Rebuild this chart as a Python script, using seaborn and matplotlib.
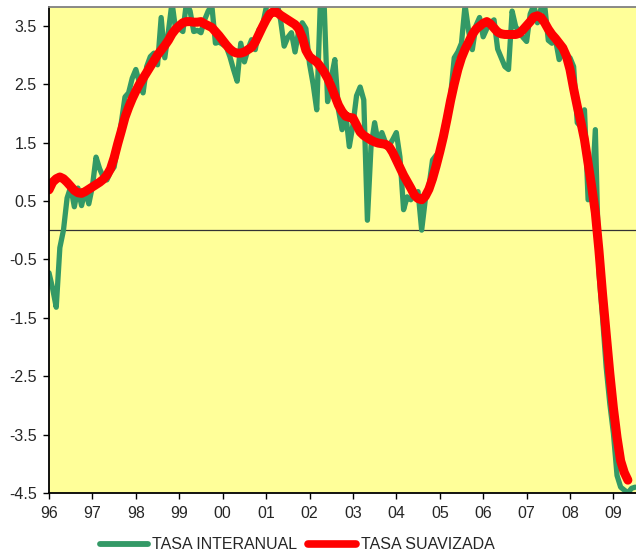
import numpy as np
import pandas as pd
import seaborn as sns
import matplotlib.pyplot as plt

# tasa interanual (mensual, desde enero 1996)
interanual = [
    -0.73, -1.00, -1.32, -0.30, 0.00, 0.55, 0.74, 0.40, 0.72, 0.42, 0.69, 0.45,
    0.75, 1.25, 1.05, 0.91, 0.86, 1.00, 1.08, 1.45, 1.85, 2.28, 2.35, 2.60,
    2.75, 2.52, 2.35, 2.80, 2.97, 3.03, 2.83, 3.64, 2.95, 3.40, 3.90, 3.43,
    3.45, 3.40, 3.90, 3.75, 3.40, 3.42, 3.38, 3.60, 3.75, 3.85, 3.20, 3.22,
    3.18, 3.14, 2.97, 2.75, 2.55, 3.20, 2.88, 3.10, 3.26, 3.09, 3.43, 3.50,
    3.80, 3.95, 3.95, 3.90, 3.60, 3.15, 3.30, 3.38, 3.05, 3.40, 3.55, 3.45,
    2.85, 2.50, 2.06, 3.90, 3.95, 2.20, 2.60, 2.92, 2.06, 1.72, 2.00, 1.43,
    1.80, 2.30, 2.45, 2.23, 0.17, 1.43, 1.84, 1.49, 1.67, 1.50, 1.45, 1.55,
    1.67, 1.25, 0.35, 0.57, 0.52, 0.60, 0.66, 0.00, 0.52, 0.74, 1.20, 1.28,
    1.32, 1.70, 2.00, 2.30, 2.95, 3.05, 3.20, 3.85, 3.40, 3.09, 3.50, 3.64,
    3.31, 3.45, 3.55, 3.60, 3.10, 2.95, 2.80, 2.75, 3.75, 3.48, 3.40, 3.30,
    3.23, 3.70, 3.85, 3.55, 3.80, 3.85, 3.25, 3.20, 3.26, 2.92, 3.03, 3.00,
    2.95, 2.80, 1.84, 1.77, 2.06, 0.52, 0.55, 1.72, -0.73, -1.50, -2.35, -2.97,
    -3.48, -4.20, -4.40, -4.45, -4.50, -4.42, -4.40,
]

# tasa suavizada
suavizada = [
    0.69, 0.82, 0.88, 0.91, 0.88, 0.82, 0.75, 0.68, 0.64, 0.63, 0.66, 0.70,
    0.74, 0.78, 0.82, 0.87, 0.94, 1.05, 1.24, 1.48, 1.70, 1.93, 2.10, 2.25,
    2.38, 2.50, 2.60, 2.70, 2.80, 2.90, 3.00, 3.08, 3.16, 3.25, 3.36, 3.44,
    3.50, 3.55, 3.57, 3.57, 3.56, 3.56, 3.57, 3.53, 3.50, 3.47, 3.40, 3.33,
    3.25, 3.17, 3.10, 3.05, 3.03, 3.03, 3.05, 3.09, 3.13, 3.22, 3.35, 3.48,
    3.60, 3.70, 3.74, 3.73, 3.68, 3.64, 3.60, 3.56, 3.52, 3.45, 3.30, 3.08,
    2.97, 2.92, 2.88, 2.80, 2.71, 2.60, 2.46, 2.30, 2.14, 2.03, 1.95, 1.93,
    1.92, 1.80, 1.68, 1.62, 1.58, 1.54, 1.51, 1.49, 1.48, 1.47, 1.43, 1.33,
    1.20, 1.07, 0.94, 0.83, 0.72, 0.60, 0.54, 0.52, 0.58, 0.70, 0.88, 1.10,
    1.34, 1.60, 1.90, 2.22, 2.50, 2.75, 2.95, 3.10, 3.22, 3.35, 3.44, 3.49,
    3.54, 3.57, 3.53, 3.46, 3.39, 3.36, 3.35, 3.35, 3.35, 3.35, 3.37, 3.43,
    3.50, 3.57, 3.65, 3.67, 3.64, 3.55, 3.44, 3.35, 3.28, 3.20, 3.12, 2.98,
    2.75, 2.42, 2.12, 1.85, 1.55, 1.15, 0.74, 0.30, -0.35, -1.10, -1.77, -2.45,
    -3.05, -3.55, -3.95, -4.15, -4.28,
]

year_ticks = list(range(1996, 2010))
year_labels = ["96", "97", "98", "99", "00", "01", "02", "03", "04", "05",
               "06", "07", "08", "09"]
y_ticks = [-4.5, -3.5, -2.5, -1.5, -0.5, 0.5, 1.5, 2.5, 3.5]

df1 = pd.DataFrame({"t": 1996 + np.arange(len(interanual)) / 12, "v": interanual})
df2 = pd.DataFrame({"t": 1996 + np.arange(len(suavizada)) / 12, "v": suavizada})

sns.set_style("white")
plt.rcParams["font.family"] = ["Liberation Sans", "DejaVu Sans"]

fig = plt.figure(figsize=(6.36, 5.58), dpi=100)
ax = fig.add_axes([49 / 636, 1 - 493 / 558, 1 - 49 / 636, (493 - 7) / 558])
ax.set_facecolor("#FFFF99")

sns.lineplot(data=df1, x="t", y="v", ax=ax, color="#339966", linewidth=3.8,
             label="TASA INTERANUAL", solid_joinstyle="round",
             solid_capstyle="round")
sns.lineplot(data=df2, x="t", y="v", ax=ax, color="#FF0000", linewidth=6.5,
             label="TASA SUAVIZADA", solid_joinstyle="round",
             solid_capstyle="round")
ax.axhline(0, color="#333333", linewidth=0.9, zorder=1)

ax.set_xlim(1996, 2009.52)
ax.set_ylim(-4.5, 3.82)
ax.set_xticks(year_ticks)
ax.set_xticklabels(year_labels)
ax.set_yticks(y_ticks)
ax.set_yticklabels([f"{v:.1f}" for v in y_ticks])
ax.set_xlabel("")
ax.set_ylabel("")
ax.tick_params(axis="both", which="both", direction="out", length=4,
               width=1, color="black", labelsize=11.5, left=True, bottom=True,
               pad=5)

for side in ["left", "bottom"]:
    ax.spines[side].set_color("black")
    ax.spines[side].set_linewidth(1.3)
ax.spines["top"].set_color("#808080")
ax.spines["top"].set_linewidth(1.3)
ax.spines["right"].set_visible(False)

handles, labels = ax.get_legend_handles_labels()
ax.legend_.remove()
leg = fig.legend(handles, labels, loc="center", ncol=2,
                 bbox_to_anchor=(0.467, 0.0233), frameon=False, fontsize=11.5,
                 handlelength=3.0, handletextpad=0.27, columnspacing=0.7,
                 borderaxespad=0)
for line, lw in zip(leg.get_lines(), [4.2, 5.5]):
    line.set_solid_capstyle("round")
    line.set_linewidth(lw)

fig.savefig("out.png", dpi=100)
